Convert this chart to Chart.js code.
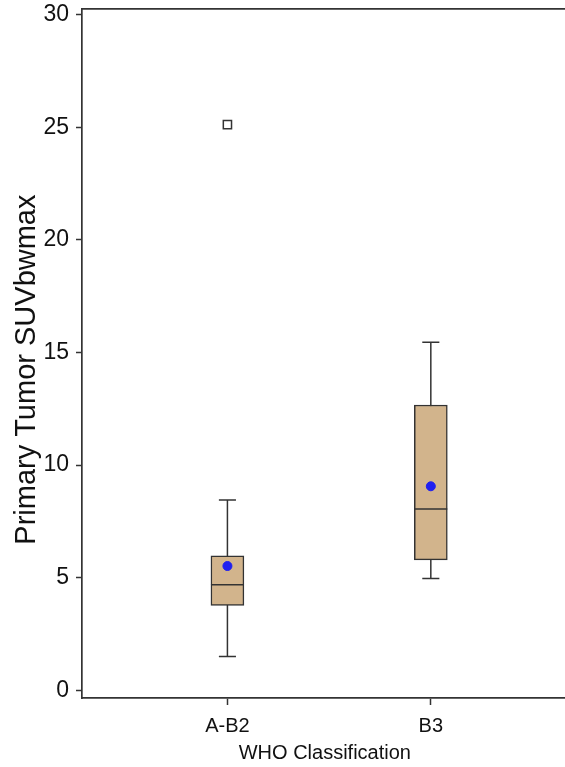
<!DOCTYPE html>
<html>
<head>
<meta charset="utf-8">
<script src="https://cdn.jsdelivr.net/npm/chart.js@4/dist/chart.umd.min.js"></script>
<style>
  html, body { margin: 0; padding: 0; background: #fff; overflow: hidden; }
  #wrap { width: 575px; height: 767px; }
</style>
</head>
<body>
<div id="wrap"><canvas id="chartBox"></canvas></div>
<script>
// data
const categories = ['A-B2', 'B3'];
const whiskerLow = [1.5, 4.96];
const q1 = [3.77, 5.79];
const median = [4.69, 8.05];
const q3 = [5.97, 12.67];
const whiskerHigh = [8.45, 15.45];
const means = [5.52, 9.06];
const outliers = [[25.12], []];
const yTicks = [0, 5, 10, 15, 20, 25, 30];

const ink = '#333333';
const boxHalf = 0.081;  // half box width, in category units
const capHalf = 0.042;

// whisker segments, separated by gaps
const whiskerPts = [];
categories.forEach((c, i) => {
  whiskerPts.push({x: i, y: whiskerLow[i]}, {x: i, y: whiskerHigh[i]}, {x: i, y: null});
  whiskerPts.push({x: i - capHalf, y: whiskerLow[i]}, {x: i + capHalf, y: whiskerLow[i]}, {x: i, y: null});
  whiskerPts.push({x: i - capHalf, y: whiskerHigh[i]}, {x: i + capHalf, y: whiskerHigh[i]}, {x: i, y: null});
});
const medianPts = [];
categories.forEach((c, i) => {
  medianPts.push({x: i - boxHalf, y: median[i]}, {x: i + boxHalf, y: median[i]}, {x: i, y: null});
});
const outlierPts = [];
outliers.forEach((list, i) => list.forEach(v => outlierPts.push({x: i, y: v})));

const font = 'Arial, "Liberation Sans", sans-serif';

new Chart(document.getElementById('chartBox').getContext('2d'), {
  data: {
    datasets: [
      {
        type: 'line', data: whiskerPts, borderColor: ink, borderWidth: 1.5,
        pointRadius: 0, spanGaps: false, order: 4
      },
      {
        type: 'bar', data: categories.map((c, i) => ({x: i, y: [q1[i], q3[i]]})),
        backgroundColor: '#D2B48C', borderColor: ink, borderWidth: 1.5,
        borderSkipped: false, barThickness: 33, order: 3
      },
      {
        type: 'line', data: medianPts, borderColor: ink, borderWidth: 1.5,
        pointRadius: 0, spanGaps: false, order: 2
      },
      {
        type: 'scatter', data: means.map((m, i) => ({x: i, y: m})),
        pointRadius: 4.5, backgroundColor: '#1f1ff0', borderColor: '#1f1ff0', order: 1
      },
      {
        type: 'scatter', data: outlierPts, pointStyle: 'rect', pointRadius: 5.8,
        backgroundColor: '#fff', borderColor: ink, borderWidth: 1.5, order: 0
      }
    ]
  },
  options: {
    responsive: true,
    maintainAspectRatio: false,
    animation: false,
    layout: { padding: { top: 9, left: 0, right: 0, bottom: 0 } },
    plugins: { legend: { display: false }, tooltip: { enabled: false } },
    scales: {
      x: {
        type: 'linear', position: 'bottom', min: -0.715, max: 1.673, offset: false,
        afterBuildTicks: s => { s.ticks = categories.map((c, i) => ({value: i})); },
        afterFit: s => { s.height = 69; s.paddingLeft = 0; s.paddingRight = 0; },
        ticks: {
          callback: v => categories[v], color: '#111', padding: 9,
          font: { family: font, size: 20 }, maxRotation: 0
        },
        grid: { offset: false, drawOnChartArea: false, tickLength: 7, tickColor: ink, tickWidth: 1.5 },
        border: { display: true, color: ink, width: 1.7 },
        title: {
          display: true, text: 'WHO Classification', color: '#111',
          font: { family: font, size: 20 }, padding: { top: 0, bottom: 2 }
        }
      },
      xTop: {
        type: 'linear', position: 'top', min: -0.715, max: 1.673, offset: false,
        afterFit: s => { s.height = 0; s.paddingLeft = 0; s.paddingRight = 0; },
        ticks: { display: false },
        grid: { display: false },
        border: { display: true, color: ink, width: 1.7 }
      },
      y: {
        type: 'linear', min: -0.34, max: 30.25,
        afterBuildTicks: s => { s.ticks = yTicks.map(v => ({value: v})); },
        afterFit: s => { s.width = 82; s.paddingTop = 0; s.paddingBottom = 0; },
        ticks: { color: '#111', padding: 7, font: { family: font, size: 23 } },
        grid: { drawOnChartArea: false, tickLength: 6, tickColor: ink, tickWidth: 1.5 },
        border: { display: true, color: ink, width: 1.7 },
        title: {
          display: true, text: 'Primary Tumor SUVbwmax    ', color: '#111',
          font: { family: font, size: 29 }, padding: { top: 10, bottom: 0 }
        }
      }
    }
  }
});
</script>
</body>
</html>
